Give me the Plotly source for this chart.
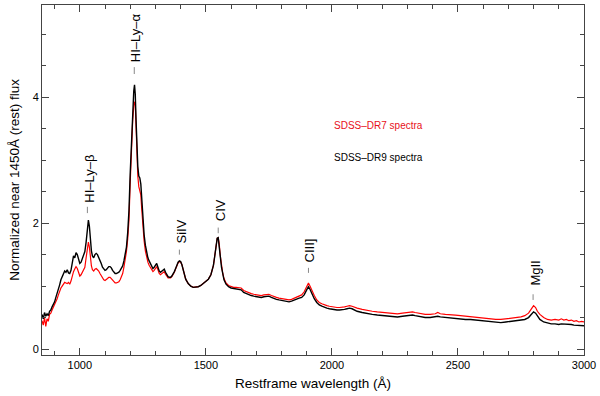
import plotly.graph_objects as go

# Restframe wavelength grid (Angstrom)
wavelength = [
    850, 855, 860, 865, 870, 875, 880, 885, 890, 895, 900, 905, 910, 915, 920, 925, 930, 935, 940, 945,
    950, 955, 960, 965, 970, 975, 980, 985, 990, 995, 1000, 1005, 1010, 1015, 1020, 1025, 1030, 1034, 1038, 1042,
    1046, 1050, 1055, 1060, 1065, 1070, 1075, 1080, 1085, 1090, 1095, 1100, 1105, 1110, 1115, 1120, 1125, 1130, 1135, 1140,
    1145, 1150, 1155, 1160, 1165, 1170, 1175, 1180, 1185, 1190, 1195, 1200, 1205, 1210, 1214, 1217, 1220, 1223, 1226, 1230,
    1234, 1238, 1242, 1246, 1250, 1255, 1260, 1265, 1270, 1275, 1280, 1285, 1290, 1295, 1300, 1305, 1310, 1315, 1320, 1325,
    1330, 1335, 1340, 1345, 1350, 1355, 1360, 1365, 1370, 1375, 1380, 1385, 1390, 1395, 1400, 1405, 1410, 1415, 1420, 1430,
    1440, 1450, 1460, 1470, 1480, 1490, 1500, 1510, 1520, 1525, 1530, 1535, 1540, 1545, 1549, 1553, 1557, 1562, 1567, 1572,
    1580, 1590, 1600, 1610, 1620, 1630, 1640, 1650, 1660, 1670, 1680, 1690, 1700, 1710, 1720, 1730, 1740, 1750, 1760, 1770,
    1780, 1790, 1800, 1810, 1820, 1830, 1840, 1850, 1860, 1870, 1880, 1890, 1900, 1907, 1913, 1920, 1930, 1940, 1950, 1960,
    1970, 1980, 1990, 2000, 2010, 2020, 2030, 2040, 2050, 2060, 2070, 2080, 2090, 2100, 2120, 2140, 2160, 2180, 2200, 2220,
    2240, 2260, 2280, 2300, 2320, 2330, 2350, 2370, 2390, 2410, 2420, 2430, 2450, 2470, 2490, 2510, 2530, 2550, 2570, 2590,
    2610, 2630, 2650, 2670, 2690, 2710, 2730, 2750, 2765, 2780, 2790, 2800, 2808, 2815, 2825, 2840, 2855, 2870, 2885, 2900,
    2910, 2920, 2930, 2940, 2950, 2960, 2970, 2980, 2990, 3000,
]

# SDSS-DR9 normalized flux (black)
dr9_flux = [
    0.55, 0.48, 0.58, 0.52, 0.56, 0.53, 0.60, 0.62, 0.67, 0.70, 0.75, 0.82, 0.88, 0.95, 1.02, 1.10, 1.15, 1.18, 1.24, 1.22,
    1.26, 1.21, 1.20, 1.25, 1.38, 1.48, 1.45, 1.53, 1.50, 1.40, 1.36, 1.38, 1.45, 1.50, 1.55, 1.70, 1.92, 2.05, 1.95, 1.70,
    1.56, 1.48, 1.45, 1.50, 1.52, 1.50, 1.46, 1.42, 1.36, 1.30, 1.27, 1.25, 1.26, 1.29, 1.31, 1.31, 1.29, 1.25, 1.22, 1.20,
    1.20, 1.21, 1.22, 1.25, 1.28, 1.32, 1.40, 1.50, 1.62, 1.85, 2.20, 2.80, 3.35, 3.80, 4.10, 4.20, 4.05, 3.65, 3.20, 2.90,
    2.75, 2.72, 2.62, 2.35, 2.08, 1.82, 1.65, 1.53, 1.45, 1.40, 1.35, 1.30, 1.28, 1.30, 1.34, 1.36, 1.30, 1.24, 1.22, 1.24,
    1.26, 1.27, 1.22, 1.17, 1.15, 1.14, 1.14, 1.16, 1.19, 1.23, 1.28, 1.34, 1.38, 1.40, 1.39, 1.34, 1.25, 1.17, 1.11, 1.04,
    1.00, 0.98, 0.98, 0.99, 1.01, 1.04, 1.07, 1.11, 1.18, 1.24, 1.33, 1.47, 1.64, 1.76, 1.77, 1.66, 1.48, 1.30, 1.18, 1.10,
    1.03, 0.99, 0.97, 0.96, 0.95, 0.95, 0.94, 0.90, 0.88, 0.86, 0.85, 0.84, 0.83, 0.82, 0.82, 0.83, 0.84, 0.84, 0.82, 0.80,
    0.79, 0.78, 0.77, 0.77, 0.76, 0.75, 0.76, 0.78, 0.80, 0.81, 0.82, 0.86, 0.94, 0.99, 0.95, 0.88, 0.80, 0.74, 0.70, 0.68,
    0.66, 0.65, 0.64, 0.63, 0.63, 0.62, 0.62, 0.62, 0.63, 0.64, 0.65, 0.64, 0.62, 0.60, 0.58, 0.56, 0.55, 0.54, 0.53, 0.52,
    0.51, 0.51, 0.52, 0.53, 0.54, 0.53, 0.51, 0.50, 0.50, 0.51, 0.52, 0.51, 0.50, 0.50, 0.49, 0.48, 0.47, 0.47, 0.46, 0.45,
    0.44, 0.43, 0.42, 0.42, 0.43, 0.44, 0.45, 0.46, 0.47, 0.50, 0.55, 0.59, 0.57, 0.52, 0.47, 0.43, 0.41, 0.40, 0.40, 0.39,
    0.40, 0.40, 0.39, 0.39, 0.39, 0.38, 0.38, 0.38, 0.37, 0.37,
]

# SDSS-DR7 normalized flux (red)
dr7_flux = [
    0.45, 0.38, 0.50, 0.36, 0.48, 0.44, 0.55, 0.57, 0.62, 0.66, 0.70, 0.75, 0.80, 0.86, 0.92, 0.97, 1.00, 1.03, 1.06, 1.05,
    1.04, 1.06, 1.03, 1.08, 1.16, 1.23, 1.27, 1.31, 1.28, 1.20, 1.16, 1.18, 1.22, 1.26, 1.30, 1.45, 1.62, 1.70, 1.62, 1.42,
    1.32, 1.26, 1.24, 1.27, 1.28, 1.26, 1.24, 1.20, 1.16, 1.12, 1.10, 1.09, 1.10, 1.12, 1.14, 1.14, 1.12, 1.09, 1.07, 1.05,
    1.05, 1.06, 1.07, 1.10, 1.14, 1.20, 1.30, 1.42, 1.55, 1.75, 2.05, 2.65, 3.20, 3.65, 3.85, 3.93, 3.90, 3.55, 3.10, 2.75,
    2.58, 2.53, 2.45, 2.20, 1.95, 1.72, 1.56, 1.45, 1.38, 1.33, 1.29, 1.25, 1.23, 1.25, 1.29, 1.31, 1.26, 1.20, 1.18, 1.20,
    1.21, 1.23, 1.19, 1.15, 1.13, 1.13, 1.13, 1.15, 1.18, 1.22, 1.27, 1.33, 1.37, 1.39, 1.38, 1.34, 1.25, 1.17, 1.11, 1.04,
    1.00, 0.98, 0.98, 0.99, 1.01, 1.04, 1.07, 1.11, 1.18, 1.24, 1.33, 1.47, 1.64, 1.76, 1.77, 1.67, 1.49, 1.32, 1.20, 1.12,
    1.05, 1.01, 0.99, 0.98, 0.98, 0.98, 0.97, 0.93, 0.91, 0.89, 0.88, 0.87, 0.86, 0.85, 0.85, 0.86, 0.87, 0.87, 0.85, 0.83,
    0.82, 0.81, 0.80, 0.80, 0.79, 0.78, 0.79, 0.81, 0.83, 0.84, 0.86, 0.91, 0.99, 1.05, 1.00, 0.93, 0.85, 0.78, 0.74, 0.72,
    0.70, 0.69, 0.68, 0.67, 0.67, 0.66, 0.66, 0.66, 0.67, 0.68, 0.69, 0.68, 0.66, 0.65, 0.63, 0.61, 0.60, 0.59, 0.58, 0.57,
    0.56, 0.56, 0.57, 0.58, 0.59, 0.58, 0.56, 0.55, 0.55, 0.56, 0.58, 0.56, 0.55, 0.55, 0.54, 0.53, 0.52, 0.52, 0.51, 0.50,
    0.49, 0.48, 0.47, 0.47, 0.48, 0.49, 0.50, 0.51, 0.53, 0.57, 0.63, 0.69, 0.66, 0.60, 0.55, 0.50, 0.47, 0.46, 0.47, 0.46,
    0.48, 0.46, 0.47, 0.45, 0.46, 0.44, 0.45, 0.43, 0.44, 0.43,
]

# Emission line labels: marker wavelength, label text, text-bottom flux, dash top/bottom flux, text x
line_labels = ["HI–Ly–β", "HI–Ly–α", "SiIV", "CIV", "CIII]", "MgII"]
line_wavelength = [1030, 1216, 1395, 1549, 1907, 2798]
label_x = [1038, 1222, 1404, 1556, 1912, 2806]
label_bottom = [2.30, 4.53, 1.64, 2.00, 1.34, 0.97]
dash_top = [2.26, 4.48, 1.58, 1.93, 1.29, 0.87]
dash_bottom = [2.16, 4.37, 1.50, 1.84, 1.21, 0.78]

series_names = ["SDSS–DR7 spectra", "SDSS–DR9 spectra"]

FONT = "Liberation Sans, Arial, sans-serif"

fig = go.Figure()
fig.add_trace(go.Scatter(x=wavelength, y=dr7_flux, mode="lines",
                         line=dict(color="#ff0000", width=1.2), name=series_names[0]))
fig.add_trace(go.Scatter(x=wavelength, y=dr9_flux, mode="lines",
                         line=dict(color="#000000", width=1.4), name=series_names[1]))

annotations = []
shapes = []
for lab, lw, lx, lb, dt, db in zip(line_labels, line_wavelength, label_x, label_bottom, dash_top, dash_bottom):
    annotations.append(dict(x=lx, y=lb, xref="x", yref="y", text=lab, showarrow=False,
                            textangle=-90, xanchor="center", yanchor="bottom",
                            font=dict(family=FONT, size=13, color="black")))
    shapes.append(dict(type="line", xref="x", yref="y", x0=lw, x1=lw, y0=db, y1=dt,
                       line=dict(color="#888888", width=1)))

annotations.append(dict(x=2000, y=3.55, xref="x", yref="y", text=series_names[0], showarrow=False,
                        xanchor="left", yanchor="middle", font=dict(family=FONT, size=10, color="#e8101a")))
annotations.append(dict(x=2000, y=3.04, xref="x", yref="y", text=series_names[1], showarrow=False,
                        xanchor="left", yanchor="middle", font=dict(family=FONT, size=10, color="black")))
# y-axis title placed in paper space
annotations.append(dict(x=-0.052, y=0.5, xref="paper", yref="paper", text="Normalized near 1450Å (rest) flux",
                        showarrow=False, textangle=-90, xanchor="center", yanchor="middle",
                        font=dict(family=FONT, size=13.5, color="black")))

axis_common = dict(showgrid=False, zeroline=False, showline=True, linecolor="#444444", linewidth=1,
                   mirror="ticks", ticks="inside", tickcolor="#444444", ticklen=7, tickwidth=1,
                   automargin=False, tickfont=dict(family=FONT, size=11, color="black"))

fig.update_layout(
    width=600, height=396,
    margin=dict(l=42, r=16, t=5, b=41),
    paper_bgcolor="white", plot_bgcolor="white",
    showlegend=False,
    xaxis=dict(range=[850, 3000], tickvals=[1000, 1500, 2000, 2500, 3000],
               minor=dict(dtick=100, tick0=0, ticks="inside", ticklen=4, tickcolor="#444444"),
               title=dict(text="Restframe wavelength (Å)", font=dict(family=FONT, size=13.5, color="black"),
                          standoff=8),
               **axis_common),
    yaxis=dict(range=[-0.095, 5.467], tickvals=[0, 2, 4],
               minor=dict(dtick=0.5, tick0=0, ticks="inside", ticklen=4, tickcolor="#444444"),
               **axis_common),
    annotations=annotations,
    shapes=shapes,
)

fig.write_html("out.html", config={"displayModeBar": False},
               post_script="document.body.style.margin='0px';document.body.style.overflow='hidden';")
